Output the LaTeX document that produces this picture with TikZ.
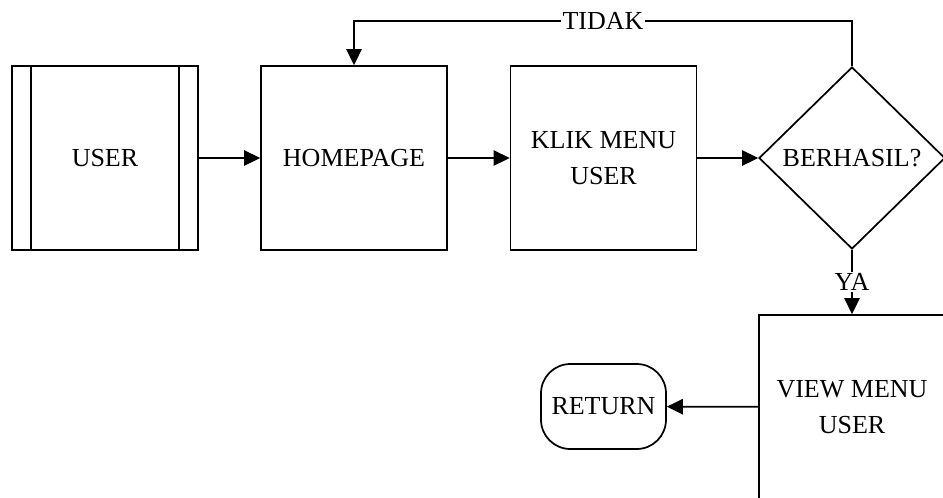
\documentclass[tikz,border=0pt]{standalone}
\usepackage{fontspec}
\setmainfont{Liberation Serif}
\usetikzlibrary{shapes.geometric,arrows.meta}

\begin{document}
\begin{tikzpicture}[x=0.75pt,y=-0.75pt,line width=1.3pt,
  box/.style={draw,rectangle,minimum width=139.5pt,minimum height=138pt,inner sep=0pt,align=center},
  arr/.style={-{Triangle[length=12pt,width=11.5pt]}},
  lbl/.style={fill=white,inner sep=1pt}]
\tikzstyle{every node}+=[font=\fontsize{19.5}{27.5}\selectfont]
\useasboundingbox (0,0) rectangle (943,497);
\clip (0,0) rectangle (943,497);
\node [box] (user) at (105,158) {USER};
\draw ([xshift=15pt]user.north west) -- ([xshift=15pt]user.south west);
\draw ([xshift=-15pt]user.north east) -- ([xshift=-15pt]user.south east);
\node [box] (homepage) at (354,158) {HOMEPAGE};
\node [box] (klik) at (603.5,158) {KLIK MENU\\USER};
\node [draw,diamond,minimum width=139.5pt,minimum height=136.5pt,inner sep=0pt] (berhasil) at (852,158) {BERHASIL?};
\node [box] (view) at (852,407) {VIEW MENU\\USER};
\node [draw,rectangle,rounded corners=22pt,minimum width=93.75pt,minimum height=63.75pt,inner sep=0pt] (return) at (603.5,406.5) {RETURN};
\draw [arr] (user) -- (homepage);
\draw [arr] (homepage) -- (klik);
\draw [arr] (klik) -- (berhasil);
\draw [arr] (berhasil.north) -- ++(0,-45) -| node [lbl,pos=0.25] {TIDAK} (homepage.north);
\draw [arr] (berhasil.south) -- node [lbl] {YA} (view.north);
\draw [arr] (view) -- (return);
\end{tikzpicture}
\end{document}
